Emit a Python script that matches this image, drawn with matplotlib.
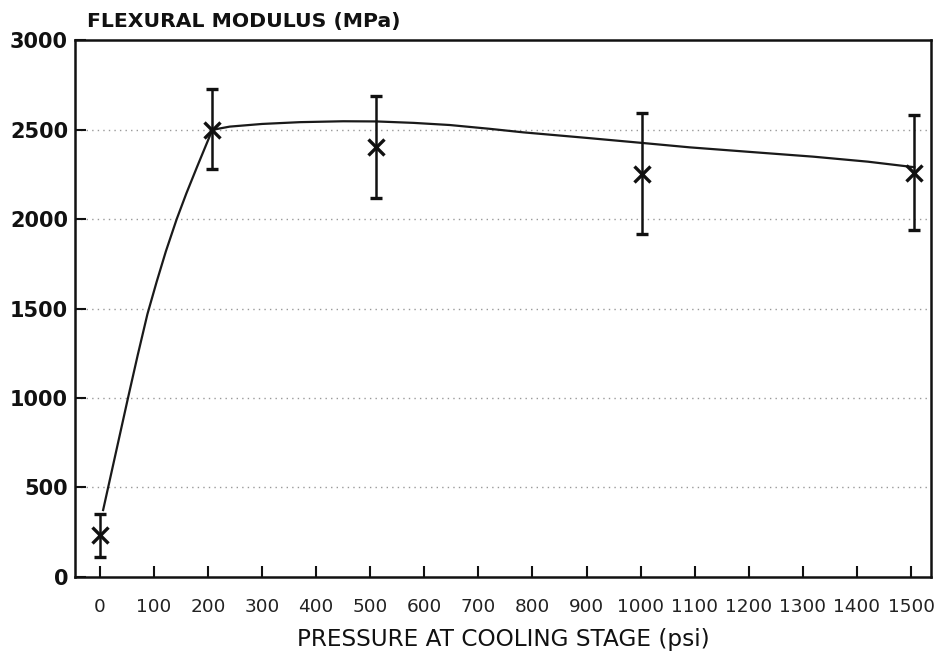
import numpy as np
import matplotlib.pyplot as plt

# --- values --- #
pressure = [0, 208, 510, 1002, 1506]
modulus = [233, 2500, 2406, 2255, 2261]
err_low = [123, 217, 290, 335, 324]
err_high = [117, 230, 285, 341, 324]

# fitted curve, points
curve_p = [6, 30, 52, 70, 88, 105, 122, 142, 160, 180, 195, 208, 240, 300, 370, 450, 512,
           580, 647, 720, 783, 900, 1002, 1091, 1200, 1319, 1420, 1506]
curve_v = [373, 700, 1000, 1240, 1470, 1650, 1820, 2000, 2145, 2295, 2405, 2500, 2518, 2533, 2543,
           2548, 2547, 2539, 2527, 2506, 2486, 2455, 2427, 2402, 2377, 2350, 2322, 2291]

x_ticks = np.arange(0, 1600, 100)
y_ticks = [0, 500, 1000, 1500, 2000, 2500, 3000]
grid_vals = [500, 1000, 1500, 2000, 2500]

plt.rcParams['font.family'] = ['DejaVu Sans']

fig = plt.figure(figsize=(9.41, 6.57), dpi=100)
ax = fig.add_axes([0.0797, 0.1222, 0.9097, 0.8162])

for g in grid_vals:
    ax.axhline(g, color='#999999', lw=1.0, ls=(0, (1, 3)), zorder=1)

ax.plot(curve_p, curve_v, color='#1a1a1a', lw=1.6, zorder=3)

ax.errorbar(pressure, modulus, yerr=[err_low, err_high], fmt='x', color='#111111',
            ms=11, mew=2.4, elinewidth=1.8, capsize=4.5, capthick=1.8, zorder=4)

ax.set_xlim(-46, 1537)
ax.set_ylim(0, 3000)
ax.set_xticks(x_ticks)
ax.set_yticks(y_ticks)
ax.set_xticklabels([str(v) for v in x_ticks], fontsize=13.3, color='#222222')
ax.set_yticklabels([str(v) for v in y_ticks], fontsize=15, fontweight='bold', color='#111111')
ax.tick_params(axis='both', direction='in', length=8, width=1.5, color='#111111')
ax.tick_params(axis='x', pad=15)
ax.tick_params(axis='y', pad=5)
for s in ax.spines.values():
    s.set_linewidth(1.8)
    s.set_color('#111111')

ax.set_xlabel('PRESSURE AT COOLING STAGE (psi)', fontsize=16.7, color='#111111', labelpad=9)
fig.text(0.092, 0.968, 'FLEXURAL MODULUS (MPa)', fontsize=14.7, fontweight='bold',
         color='#111111', ha='left', va='center')

fig.savefig('out.png', dpi=100)
